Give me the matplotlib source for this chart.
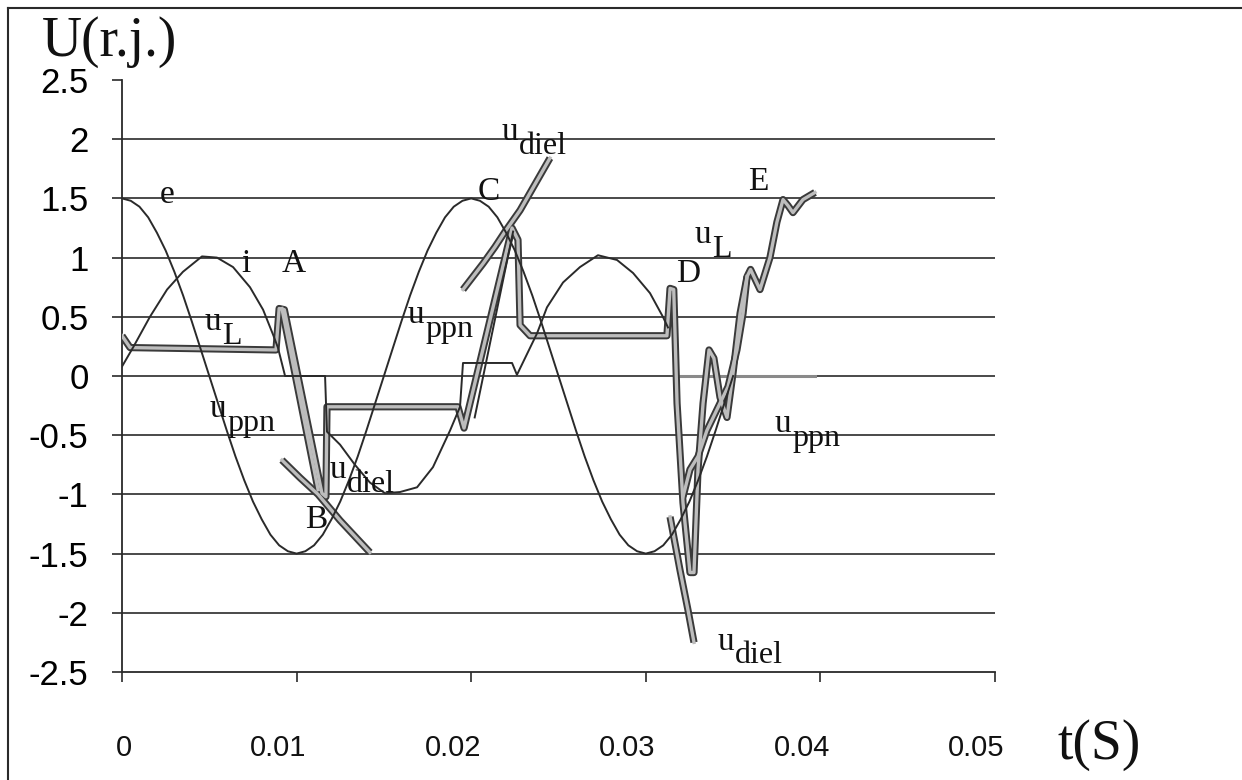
import matplotlib.pyplot as plt
from matplotlib.lines import Line2D
from matplotlib.transforms import ScaledTranslation
import numpy as np

# e (source voltage), read every 0.5 ms
t_e = [k * 0.0005 for k in range(71)]
e = [1.5, 1.48, 1.43, 1.34, 1.21, 1.06, 0.88, 0.68, 0.46, 0.23,
     0.0, -0.23, -0.46, -0.68, -0.88, -1.06, -1.21, -1.34, -1.43, -1.48,
     -1.5, -1.48, -1.43, -1.34, -1.21, -1.06, -0.88, -0.68, -0.46, -0.23,
     0.0, 0.23, 0.46, 0.68, 0.88, 1.06, 1.21, 1.34, 1.43, 1.48,
     1.5, 1.48, 1.43, 1.34, 1.21, 1.06, 0.88, 0.68, 0.46, 0.23,
     0.0, -0.23, -0.46, -0.68, -0.88, -1.06, -1.21, -1.34, -1.43, -1.48,
     -1.5, -1.48, -1.43, -1.34, -1.21, -1.06, -0.88, -0.68, -0.46, -0.23, 0.0]

# current i (with the zero / step pieces)
t_i = [0.0, 0.00063, 0.0016, 0.00258, 0.00349, 0.00458, 0.00544, 0.00636, 0.00733, 0.00808,
       0.00865, 0.00893, 0.00934, 0.01163, 0.01174, 0.01249, 0.01334, 0.0142, 0.01506, 0.01592,
       0.0169, 0.01781, 0.01879, 0.01936, 0.01953, 0.02234, 0.02262, 0.02377, 0.02434, 0.02526,
       0.02623, 0.02726, 0.02835, 0.02927, 0.03024, 0.03098, 0.03127]
i_val = [0.08, 0.24, 0.50, 0.73, 0.88, 1.01, 1.0, 0.92, 0.75, 0.56,
         0.35, 0.24, 0.0, 0.0, -0.47, -0.58, -0.75, -0.9, -0.99, -0.98,
         -0.94, -0.77, -0.46, -0.26, 0.11, 0.11, 0.01, 0.36, 0.58, 0.79,
         0.92, 1.02, 0.98, 0.87, 0.70, 0.50, 0.41]

# u_L (thick)
t_uL = [0.0, 0.00046, 0.00882, 0.0090, 0.0093, 0.01145, 0.01168, 0.01174, 0.01924, 0.01959,
        0.02234, 0.02268, 0.0228, 0.02337, 0.03121, 0.03139, 0.0316, 0.03179, 0.03213, 0.03253,
        0.03276, 0.03299, 0.03328, 0.03362, 0.0339, 0.03425, 0.03465, 0.035, 0.0354, 0.0358,
        0.036, 0.03654, 0.03711, 0.03751, 0.03786, 0.03814, 0.03843, 0.039, 0.03969]
uL = [0.34, 0.24, 0.22, 0.57, 0.56, -0.99, -1.02, -0.26, -0.26, -0.44,
      1.25, 1.15, 0.43, 0.34, 0.34, 0.74, 0.73, -0.23, -1.07, -1.66,
      -1.66, -0.79, -0.23, 0.22, 0.15, -0.18, -0.35, 0.03, 0.53, 0.84,
      0.90, 0.73, 1.0, 1.30, 1.49, 1.44, 1.38, 1.49, 1.55]

# second thick strand A -> B and the smoother strand after D
t_ab = [0.00916, 0.01123]
ab = [0.57, -0.96]
t_u2 = [0.03213, 0.03253, 0.03299, 0.0335, 0.03425, 0.03471, 0.03522, 0.03557, 0.0358]
u2 = [-1.02, -0.79, -0.68, -0.46, -0.23, -0.09, 0.22, 0.53, 0.84]

# u_ppn pieces
t_ppn_c = [0.0202, 0.0224]
ppn_c = [-0.35, 1.22]
t_ppn_end = [0.0319, 0.0397]
ppn_end = [0.0, 0.0]

# u_diel (dielectric strength) lines
t_d1 = [0.00916, 0.0102, 0.01123, 0.01249, 0.0142]
d1 = [-0.71, -0.86, -1.0, -1.22, -1.49]
t_d2 = [0.01953, 0.02068, 0.02136, 0.02194, 0.0228, 0.02451]
d2 = [0.73, 0.95, 1.09, 1.22, 1.40, 1.84]
t_d3 = [0.03139, 0.03196, 0.03242, 0.03276]
d3 = [-1.19, -1.64, -1.98, -2.25]

xticks = [0, 0.01, 0.02, 0.03, 0.04, 0.05]
xlabels = ['0', '0.01', '0.02', '0.03', '0.04', '0.05']
yticks = [-2.5, -2, -1.5, -1, -0.5, 0, 0.5, 1, 1.5, 2, 2.5]
ylabels = ['-2.5', '-2', '-1.5', '-1', '-0.5', '0', '0.5', '1', '1.5', '2', '2.5']

SERIF = 'Liberation Serif'
SANS = 'Liberation Sans'
DARK = '#2a2a2a'

fig = plt.figure(figsize=(12.42, 7.8), dpi=100)
ax = fig.add_axes([122 / 1242, 1 - 672 / 780, (995 - 122) / 1242, (672 - 80) / 780])

# grid lines
for g in [-2, -1.5, -1, -0.5, 0, 0.5, 1, 1.5, 2]:
    ax.axhline(g, color=DARK, lw=1.2, zorder=1)


def thick(t, v):
    ax.plot(t, v, color='#3a3a3a', lw=5.2, solid_capstyle='butt', solid_joinstyle='round', zorder=3)
    ax.plot(t, v, color='#bdbdbd', lw=2.4, solid_joinstyle='round', zorder=4)


def thin(t, v, c=DARK, lw=1.4):
    ax.plot(t, v, color=c, lw=lw, zorder=5)


thin(t_e, e)
thin(t_i, i_val)
thin(t_ppn_c, ppn_c)
ax.plot(t_ppn_end, ppn_end, color='#8a8a8a', lw=2.2, zorder=2)
thick(t_uL, uL)
thick(t_ab, ab)
thick(t_u2, u2)
thick(t_d1, d1)
thick(t_d2, d2)
thick(t_d3, d3)


def lab(x, y, main, sub=None):
    ax.annotate(main, (x, y), xytext=(0, 0), textcoords='offset points', fontsize=24,
                family=SERIF, ha='left', va='baseline', color='#111', zorder=6)
    if sub:
        ax.annotate(sub, (x, y), xytext=(12.5, -10), textcoords='offset points', fontsize=23,
                    family=SERIF, ha='left', va='baseline', color='#111', zorder=6)


lab(0.00218, 1.46, 'e')
lab(0.00682, 0.88, 'i')
lab(0.00916, 0.88, 'A')
lab(0.00475, 0.39, 'u', 'L')
lab(0.00504, -0.35, 'u', 'ppn')
lab(0.01048, -1.28, 'B')
lab(0.01191, -0.86, 'u', 'diel')
lab(0.02039, 1.49, 'C')
lab(0.02176, 1.99, 'u', 'diel')
lab(0.01638, 0.45, 'u', 'ppn')
lab(0.03173, 0.79, 'D')
lab(0.0328, 1.12, 'u', 'L')
lab(0.03585, 1.57, 'E')
lab(0.0374, -0.47, 'u', 'ppn')
lab(0.03413, -2.31, 'u', 'diel')

ax.set_xlim(0, 0.05)
ax.set_ylim(-2.5, 2.5)
ax.set_xticks(xticks)
ax.set_xticklabels([])
ax.set_yticks(yticks)
ax.set_yticklabels(ylabels, fontsize=25, family=SANS)
ax.tick_params(axis='both', direction='out', length=7, width=1.2, color=DARK)
ax.tick_params(axis='y', pad=17)

# x tick labels sit right-aligned a little past each tick (scan layout)
xoff = ax.get_xaxis_transform() + ScaledTranslation(7 / 72, 0, fig.dpi_scale_trans)
for v, s in zip(xticks, xlabels):
    ax.text(v, -0.128, s, transform=xoff, fontsize=21, family=SANS, ha='right', va='center', color='#111')

for s in ['top', 'right']:
    ax.spines[s].set_visible(False)
for s in ['left', 'bottom']:
    ax.spines[s].set_color(DARK)
    ax.spines[s].set_linewidth(1.3)

fig.text(42 / 1242, 1 - 42 / 780, 'U(r.j.)', fontsize=40, family=SERIF, ha='left', va='center', color='#111')
fig.text(1057 / 1242, 1 - 745 / 780, 't(S)', fontsize=40, family=SERIF, ha='left', va='center', color='#111')

# scanned page frame (left and top edges)
fig.add_artist(Line2D([8 / 1242, 8 / 1242], [0, 1 - 8 / 780], transform=fig.transFigure, color=DARK, lw=1.5))
fig.add_artist(Line2D([8 / 1242, 1], [1 - 8 / 780, 1 - 8 / 780], transform=fig.transFigure, color=DARK, lw=1.5))

fig.savefig('out.png', dpi=100, facecolor='white')
